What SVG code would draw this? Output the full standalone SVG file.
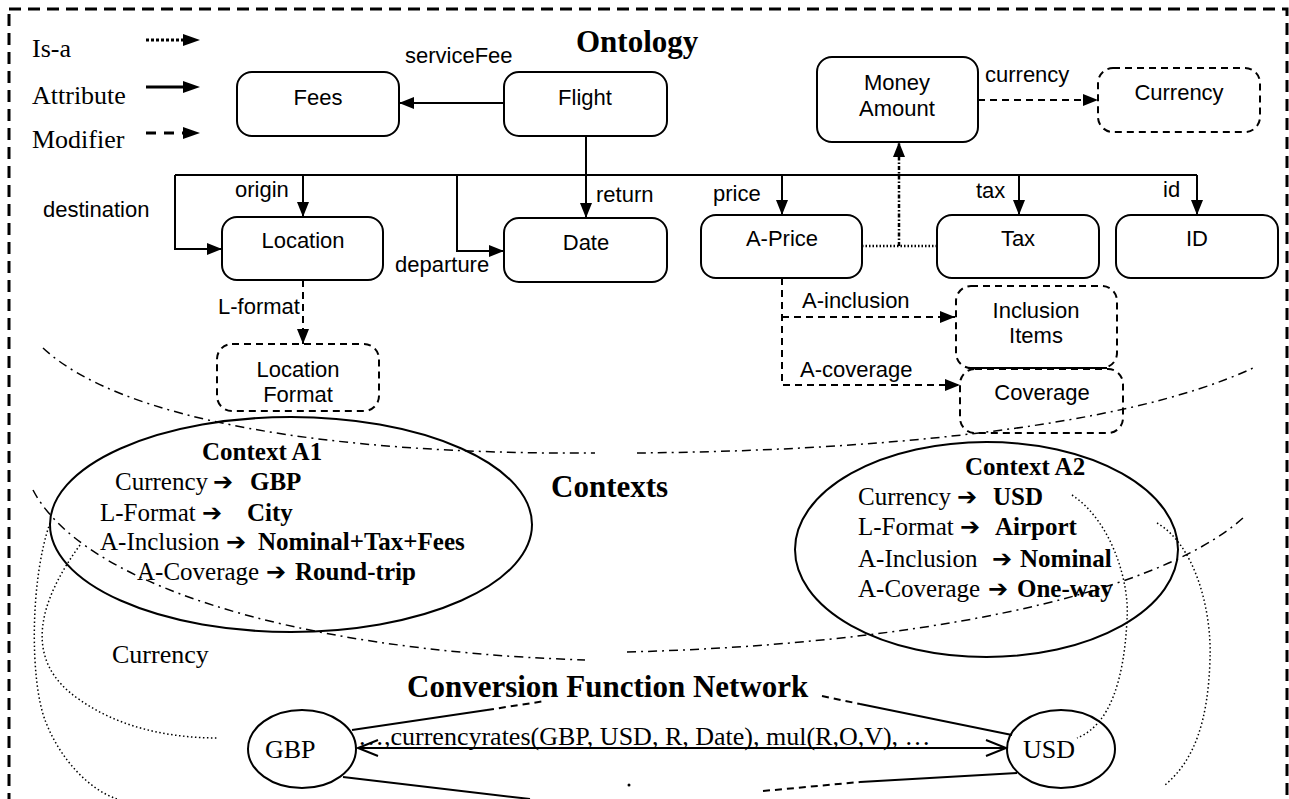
<svg xmlns="http://www.w3.org/2000/svg" width="1289" height="799" viewBox="0 0 1289 799">
<defs>
<marker id="ah" markerUnits="userSpaceOnUse" markerWidth="15" markerHeight="12" viewBox="0 0 15 12" refX="15" refY="6" orient="auto"><path d="M0,0 L15,6 L0,12 z" fill="#000"/></marker>
</defs>
<style>
.box{fill:none;stroke:#000;stroke-width:2}
.dbox{fill:none;stroke:#000;stroke-width:2;stroke-dasharray:7,5}
.n{font-family:"Liberation Sans",Arial,sans-serif;font-size:22px;text-anchor:middle}
.l{font-family:"Liberation Sans",Arial,sans-serif;font-size:22px}
.t{font-family:"Liberation Serif","Times New Roman",serif;font-size:26px}
.ct{font-family:"Liberation Serif","Times New Roman",serif;font-size:25px}
.h{font-family:"Liberation Serif","Times New Roman",serif;font-size:31px;font-weight:bold}
.b{font-weight:bold}
.ar{font-family:"DejaVu Sans",sans-serif;font-weight:bold;font-size:24px}
.c{fill:none;stroke:#000;stroke-width:2}
.d{stroke-dasharray:7,5}
.dd{fill:none;stroke:#000;stroke-width:1.5;stroke-dasharray:9,5,2,5}
.dot{fill:none;stroke:#000;stroke-width:1.5;stroke-dasharray:1.5,2.5}
</style>
<rect width="1289" height="799" fill="#fff"/>
<rect x="9" y="9" width="1278" height="830" fill="none" stroke="#000" stroke-width="3" stroke-dasharray="12,7"/>

<g id="legend">
<text class="t" x="32" y="57">Is-a</text>
<text class="t" x="32" y="104">Attribute</text>
<text class="t" x="32" y="148">Modifier</text>
<line x1="146" y1="40" x2="183" y2="40" stroke="#000" stroke-width="3" stroke-dasharray="3,2"/>
<polygon points="183,34 200,40 183,46"/>
<line x1="146" y1="87" x2="184" y2="87" stroke="#000" stroke-width="3"/>
<polygon points="183,81 200,87 183,93"/>
<line x1="146" y1="133" x2="184" y2="133" stroke="#000" stroke-width="3" stroke-dasharray="10,8"/>
<polygon points="183,127 200,133 183,139"/>
</g>

<g id="titles">
<text class="h" x="576" y="52">Ontology</text>
<text class="h" x="551" y="497">Contexts</text>
<text class="h" x="407" y="697">Conversion Function Network</text>
</g>

<g id="connectors">
<line class="c" x1="504" y1="103" x2="399" y2="103" marker-end="url(#ah)"/>
<line class="c d" x1="978" y1="100" x2="1098" y2="100" marker-end="url(#ah)"/>
<line class="c" x1="586" y1="136" x2="586" y2="175"/>
<line class="c" x1="175" y1="175" x2="1197" y2="175"/>
<polyline class="c" points="175,175 175,249 222,249" marker-end="url(#ah)"/>
<line class="c" x1="303" y1="175" x2="303" y2="217" marker-end="url(#ah)"/>
<polyline class="c" points="457,175 457,251 504,251" marker-end="url(#ah)"/>
<line class="c" x1="586" y1="175" x2="586" y2="218" marker-end="url(#ah)"/>
<line class="c" x1="782" y1="175" x2="782" y2="215" marker-end="url(#ah)"/>
<line class="c" x1="1019" y1="175" x2="1019" y2="215" marker-end="url(#ah)"/>
<line class="c" x1="1197" y1="175" x2="1197" y2="215" marker-end="url(#ah)"/>
<line class="c d" x1="303" y1="280" x2="303" y2="344" marker-end="url(#ah)"/>
<line x1="862" y1="246" x2="937" y2="246" stroke="#000" stroke-width="2.5" stroke-dasharray="1.5,2"/>
<line x1="899" y1="246" x2="899" y2="142" stroke="#000" stroke-width="2.5" stroke-dasharray="4,2,1.5,2" marker-end="url(#ah)"/>
<polyline class="c d" points="782,278 782,385 960,385" marker-end="url(#ah)"/>
<line class="c d" x1="782" y1="317" x2="955" y2="317" marker-end="url(#ah)"/>

<path class="dd" d="M43,348 C120,420 330,455 595,453"/>
<path class="dd" d="M637,453 C860,451 1120,430 1253,368"/>
<path class="dd" d="M33,490 C80,580 280,650 585,660"/>
<path class="dd" d="M627,652 C900,645 1150,600 1243,518"/>

<path class="dot" d="M80,545 C40,600 20,660 80,700 C120,728 170,738 218,738"/>
<path class="dot" d="M50,523 C30,580 30,680 45,720 C60,760 90,790 117,799"/>
<path class="dot" d="M1072,495 C1110,520 1130,580 1127,620 C1124,680 1110,725 1077,738"/>
<path class="dot" d="M1157,523 C1195,545 1212,610 1210,660 C1208,720 1195,760 1165,785"/>

<line class="c" x1="352" y1="730" x2="487" y2="710"/>
<line class="c d" x1="487" y1="710" x2="545" y2="701"/>
<line class="c d" x1="822" y1="696" x2="860" y2="704"/>
<line class="c" x1="860" y1="704" x2="1012" y2="735"/>
<line class="c" x1="343" y1="777" x2="530" y2="799"/>
<circle cx="629" cy="785" r="1.5"/>
<line class="c d" x1="763" y1="791" x2="860" y2="782"/>
<line class="c" x1="860" y1="782" x2="1017" y2="773"/>
<line class="c" x1="358" y1="748" x2="1006" y2="748"/>
<polyline class="c" points="378,740 358,748 378,756"/>
<polyline class="c" points="986,740 1006,748 986,756"/>
</g>

<g id="edge-labels">
<text class="l" x="405" y="63">serviceFee</text>
<text class="l" x="985" y="82">currency</text>
<text class="l" x="43" y="217">destination</text>
<text class="l" x="235" y="197">origin</text>
<text class="l" x="395" y="272">departure</text>
<text class="l" x="596" y="202">return</text>
<text class="l" x="713" y="201">price</text>
<text class="l" x="976" y="198">tax</text>
<text class="l" x="1163" y="197">id</text>
<text class="l" x="218" y="314">L-format</text>
<text class="l" x="802" y="308">A-inclusion</text>
<text class="l" x="800" y="377">A-coverage</text>
<text class="t" x="112" y="663">Currency</text>
<text class="t" x="358" y="745">…,currencyrates(GBP, USD, R, Date), mul(R,O,V), …</text>
</g>

<g id="fees"><rect class="box" x="237" y="72" width="162" height="64" rx="15"/><text class="n" x="318" y="105">Fees</text></g>
<g id="flight"><rect class="box" x="504" y="72" width="163" height="64" rx="15"/><text class="n" x="585" y="105">Flight</text></g>
<g id="money-amount"><rect class="box" x="817" y="57" width="161" height="85" rx="15"/><text class="n" x="897" y="90">Money</text><text class="n" x="897" y="116">Amount</text></g>
<g id="currency"><rect class="dbox" x="1098" y="68" width="162" height="64" rx="15"/><text class="n" x="1179" y="100">Currency</text></g>
<g id="location"><rect class="box" x="222" y="217" width="161" height="63" rx="15"/><text class="n" x="303" y="248">Location</text></g>
<g id="date"><rect class="box" x="504" y="218" width="163" height="64" rx="15"/><text class="n" x="586" y="250">Date</text></g>
<g id="a-price"><rect class="box" x="701" y="215" width="161" height="63" rx="15"/><text class="n" x="782" y="246">A-Price</text></g>
<g id="tax"><rect class="box" x="937" y="215" width="162" height="63" rx="15"/><text class="n" x="1018" y="246">Tax</text></g>
<g id="id"><rect class="box" x="1116" y="215" width="162" height="63" rx="15"/><text class="n" x="1197" y="246">ID</text></g>
<g id="location-format"><rect class="dbox" x="217" y="344" width="162" height="67" rx="15"/><text class="n" x="298" y="377">Location</text><text class="n" x="298" y="402">Format</text></g>
<g id="inclusion-items"><rect class="dbox" x="956" y="286" width="161" height="82" rx="15"/><line x1="968" y1="368" x2="1107" y2="368" stroke="#000" stroke-width="2"/><text class="n" x="1036" y="318">Inclusion</text><text class="n" x="1036" y="343">Items</text></g>
<g id="coverage"><rect class="dbox" x="960" y="369" width="163" height="64" rx="15"/><text class="n" x="1042" y="400">Coverage</text></g>

<g id="context-a1">
<ellipse class="c" cx="291" cy="524.5" rx="241" ry="107.5"/>
<text class="ct b" x="202" y="460">Context A1</text>
<text class="ct" y="490"><tspan x="115">Currency</tspan><tspan class="ar" x="213">➔</tspan><tspan class="b" x="250">GBP</tspan></text>
<text class="ct" y="521"><tspan x="100">L-Format</tspan><tspan class="ar" x="202">➔</tspan><tspan class="b" x="247">City</tspan></text>
<text class="ct" y="550"><tspan x="100">A-Inclusion</tspan><tspan class="ar" x="226">➔</tspan><tspan class="b" x="258">Nominal+Tax+Fees</tspan></text>
<text class="ct" y="580"><tspan x="137">A-Coverage</tspan><tspan class="ar" x="266">➔</tspan><tspan class="b" x="295">Round-trip</tspan></text>
</g>

<g id="context-a2">
<ellipse class="c" cx="986.5" cy="549.5" rx="191.5" ry="107.5"/>
<text class="ct b" x="965" y="475">Context A2</text>
<text class="ct" y="505"><tspan x="858">Currency</tspan><tspan class="ar" x="957">➔</tspan><tspan class="b" x="993">USD</tspan></text>
<text class="ct" y="535"><tspan x="858">L-Format</tspan><tspan class="ar" x="960">➔</tspan><tspan class="b" x="995">Airport</tspan></text>
<text class="ct" y="567"><tspan x="858">A-Inclusion</tspan><tspan class="ar" x="992">➔</tspan><tspan class="b" x="1020">Nominal</tspan></text>
<text class="ct" y="597"><tspan x="858">A-Coverage</tspan><tspan class="ar" x="988">➔</tspan><tspan class="b" x="1017">One-way</tspan></text>
</g>

<g id="gbp"><ellipse class="c" cx="302" cy="749" rx="54" ry="39"/><text class="t" x="265" y="758">GBP</text></g>
<g id="usd"><ellipse class="c" cx="1061" cy="749" rx="54" ry="39"/><text class="t" x="1023" y="758">USD</text></g>
</svg>
